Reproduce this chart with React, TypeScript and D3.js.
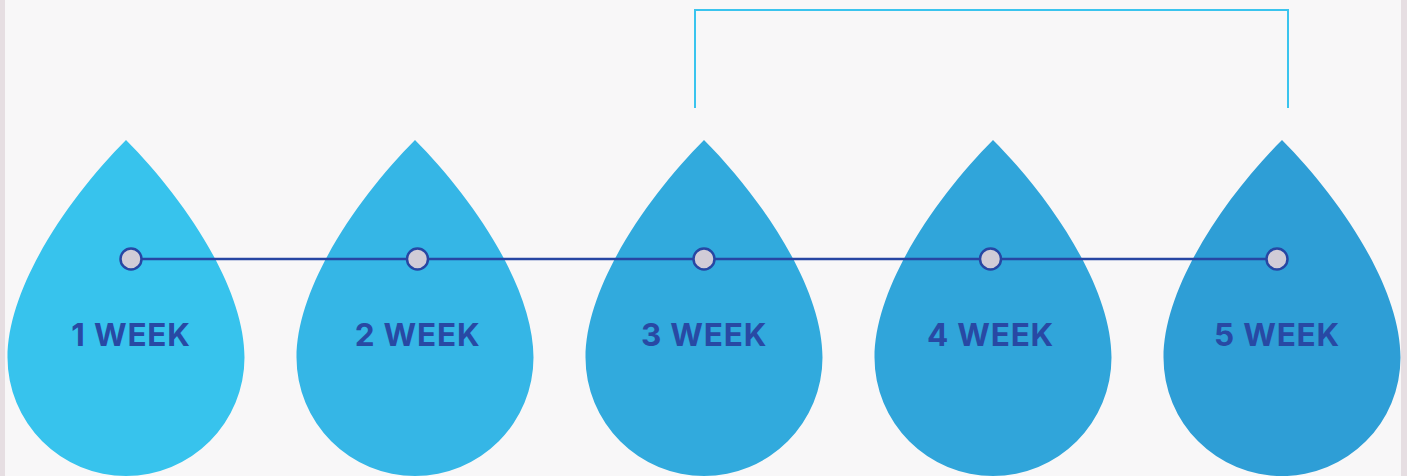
import { useRef, useEffect } from 'react';
import * as d3 from 'd3';

const weeks = ['1 WEEK', '2 WEEK', '3 WEEK', '4 WEEK', '5 WEEK'];
const dropColors = ['#37c3ed', '#35b6e6', '#31aadd', '#30a5da', '#2e9ed6'];
const bracketFrom = '3 WEEK';
const bracketTo = '5 WEEK';

const WIDTH = 1407;
const HEIGHT = 476;

export default function App() {
  const svgRef = useRef<SVGSVGElement>(null);

  useEffect(() => {
    if (!svgRef.current) return;
    document.body.style.margin = '0';

    const svg = d3.select(svgRef.current);
    svg.selectAll('*').remove();

    // background with the faint side strips
    svg.append('rect').attr('width', WIDTH).attr('height', HEIGHT).attr('fill', '#e6dee2');
    svg.append('rect').attr('x', 5).attr('width', 1396).attr('height', HEIGHT).attr('fill', '#f8f7f8');

    const dropX = d3.scalePoint<string>().domain(weeks).range([126, 1282]);
    const markX = d3.scalePoint<string>().domain(weeks).range([131, 1277]);

    const r = 118.5;
    const cy = 357.5;
    const tipY = 140;
    const a = 55;
    const b = 72;

    const dropPath = (cx: number) => {
      const p = d3.path();
      p.moveTo(cx, tipY);
      p.bezierCurveTo(cx + a, tipY + a, cx + r, cy - b, cx + r, cy);
      p.arc(cx, cy, r, 0, Math.PI, false);
      p.bezierCurveTo(cx - r, cy - b, cx - a, tipY + a, cx, tipY);
      p.closePath();
      return p.toString();
    };

    svg.append('g')
      .selectAll('path')
      .data(weeks)
      .join('path')
      .attr('d', d => dropPath(dropX(d)!))
      .attr('fill', (_, i) => dropColors[i]);

    // bracket over the last weeks
    const x0 = dropX(bracketFrom)! - 9;
    const x1 = dropX(bracketTo)! + 6;
    svg.append('path')
      .attr('d', `M${x0},108V10H${x1}V108`)
      .attr('fill', 'none')
      .attr('stroke', '#3ac4ee')
      .attr('stroke-width', 2);

    // timeline
    const lineY = 259;
    svg.append('line')
      .attr('x1', markX(weeks[0])!)
      .attr('x2', markX(weeks[weeks.length - 1])!)
      .attr('y1', lineY)
      .attr('y2', lineY)
      .attr('stroke', '#2746a3')
      .attr('stroke-width', 2.5);

    svg.append('g')
      .selectAll('circle')
      .data(weeks)
      .join('circle')
      .attr('cx', d => markX(d)!)
      .attr('cy', lineY)
      .attr('r', 10.5)
      .attr('fill', '#d1ccd7')
      .attr('stroke', '#2746a3')
      .attr('stroke-width', 2.5);

    svg.append('g')
      .selectAll('text')
      .data(weeks)
      .join('text')
      .attr('x', d => markX(d)!)
      .attr('y', 346)
      .attr('text-anchor', 'middle')
      .attr('font-family', 'Inter, "Open Sans", sans-serif')
      .attr('font-weight', 700)
      .attr('font-size', 31.5)
      .attr('letter-spacing', 0.8)
      .attr('fill', '#2849a4')
      .text(d => d);
  }, []);

  return <svg ref={svgRef} width={WIDTH} height={HEIGHT} style={{ display: 'block' }} />;
}
